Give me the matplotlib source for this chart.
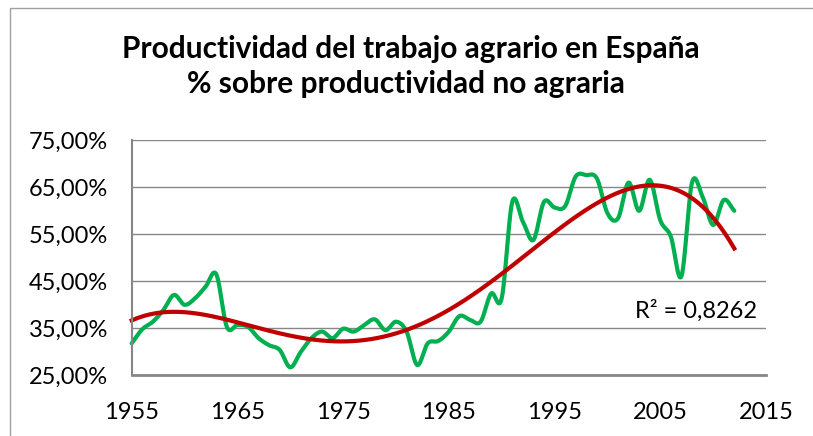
import numpy as np
import matplotlib
matplotlib.use("Agg")
import matplotlib.pyplot as plt
from matplotlib.patches import Rectangle
from matplotlib.ticker import FuncFormatter

years = list(range(1955, 2013))
productivity = [31.8, 34.8, 36.4, 38.9, 42.1, 40.0, 41.4, 43.9, 46.5, 35.3,
                35.7, 35.3, 32.9, 31.4, 30.4, 26.7, 30.0, 32.9, 34.3, 32.9,
                34.9, 34.3, 35.7, 36.9, 34.6, 36.4, 34.3, 27.2, 31.8, 32.3,
                34.3, 37.6, 36.8, 36.4, 42.4, 41.4, 61.9, 57.7, 53.8, 61.9,
                60.7, 61.0, 67.3, 67.6, 66.9, 59.5, 58.4, 66.0, 60.0, 66.6,
                58.0, 54.5, 46.1, 66.0, 63.0, 57.0, 62.3, 60.0]
x_ticks = [1955, 1965, 1975, 1985, 1995, 2005, 2015]
y_ticks = [25, 35, 45, 55, 65, 75]
title_lines = ["Productividad del trabajo agrario en España",
               "% sobre productividad no agraria"]
r2_label = "R² = 0,8262"

GREEN = "#00B050"
RED = "#C00000"
GRID = "#878787"
FONT = "Lato"
H = 436


def smooth(xs, ys, n=24):
    xs = np.asarray(xs, float)
    ys = np.asarray(ys, float)
    px = np.concatenate([[2 * xs[0] - xs[1]], xs, [2 * xs[-1] - xs[-2]]])
    py = np.concatenate([[2 * ys[0] - ys[1]], ys, [2 * ys[-1] - ys[-2]]])
    outx, outy = [], []
    t = np.linspace(0, 1, n, endpoint=False)
    for i in range(1, len(px) - 2):
        p0, p1, p2, p3 = (np.array([px[j], py[j]]) for j in range(i - 1, i + 3))
        c1 = p1 + (p2 - p0) / 6.0
        c2 = p2 - (p3 - p1) / 6.0
        pts = ((1 - t) ** 3)[:, None] * p1 + (3 * (1 - t) ** 2 * t)[:, None] * c1 \
            + (3 * (1 - t) * t ** 2)[:, None] * c2 + (t ** 3)[:, None] * p2
        outx.extend(pts[:, 0])
        outy.extend(pts[:, 1])
    outx.append(xs[-1])
    outy.append(ys[-1])
    return np.array(outx), np.array(outy)


fig = plt.figure(figsize=(8.13, 4.36), dpi=100)
fig.patch.set_facecolor("white")
fig.patches.append(Rectangle((10 / 813, -0.1), 1.2, 1 - 8 / H + 0.1,
                             transform=fig.transFigure, fill=False,
                             edgecolor="#A0A0A0", linewidth=1.0))

ax = fig.add_axes([131.7 / 813, (H - 375.3) / H, (766 - 131.7) / 813, (375.3 - 140.3) / H])
ax.set_xlim(1955, 2015)
ax.set_ylim(25, 75)
ax.set_xticks(x_ticks)
ax.set_yticks(y_ticks)
ax.yaxis.set_major_formatter(FuncFormatter(lambda v, p: f"{v:.2f}".replace(".", ",") + "%"))
ax.grid(axis="y", color=GRID, linewidth=1.0)
ax.set_axisbelow(True)
for s in ["top", "right"]:
    ax.spines[s].set_visible(False)
ax.spines["left"].set_color(GRID)
ax.spines["bottom"].set_color(GRID)
ax.spines["left"].set_linewidth(1.5)
ax.spines["bottom"].set_linewidth(2.0)
ax.tick_params(length=0, labelsize=17)
ax.tick_params(axis="x", pad=19)
ax.tick_params(axis="y", pad=17)
for lab in ax.get_xticklabels() + ax.get_yticklabels():
    lab.set_fontfamily(FONT)

sx, sy = smooth(years, productivity)
ax.plot(sx, sy, color=GREEN, linewidth=3.0, solid_capstyle="round", clip_on=False)

yr = np.array(years, float)
coef = np.polyfit(yr - 1955, productivity, 4)
tx = np.linspace(yr[0], yr[-1], 400)
ax.plot(tx, np.polyval(coef, tx - 1955), color=RED, linewidth=3.0, clip_on=False)

fig.text(757 / 813, 1 - 318 / H, r2_label, fontsize=17, fontfamily=FONT, ha="right", va="baseline")
fig.text(411 / 813, 1 - 58 / H, title_lines[0], ha="center", va="baseline", fontsize=21.5,
         fontweight="bold", fontfamily=FONT)
fig.text(406 / 813, 1 - 93 / H, title_lines[1], ha="center", va="baseline", fontsize=21.5,
         fontweight="bold", fontfamily=FONT)

fig.savefig("out.png", dpi=100)
